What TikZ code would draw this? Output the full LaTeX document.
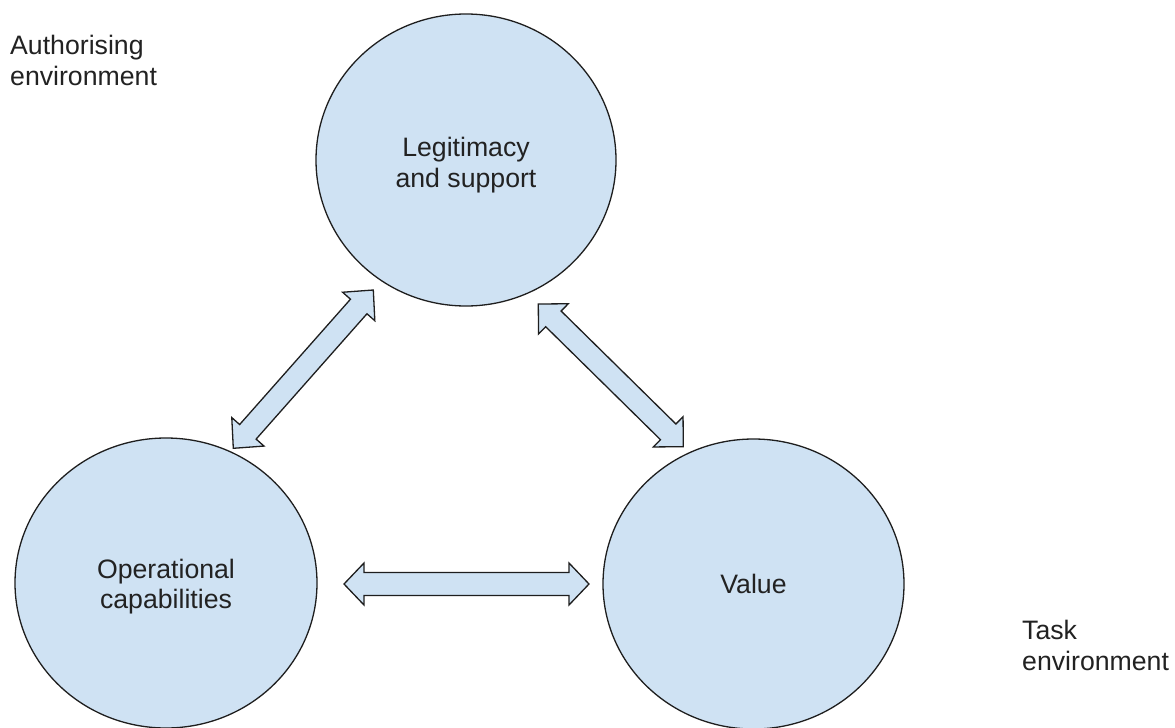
\documentclass[tikz,border=0pt]{standalone}
\usepackage{fontspec}
\setmainfont{Liberation Sans}
\usetikzlibrary{shapes.geometric,calc}
\definecolor{bubble}{HTML}{CFE2F3}
\definecolor{edgeink}{HTML}{1E1E1E}
\definecolor{ink}{HTML}{222222}
\newcommand\blockdbl[5]{%
  \coordinate (bap) at ($(#1)!#5!(#2)$);
  \coordinate (baq) at ($(#2)!#5!(#1)$);
  \draw[blockarrow] (#1) -- ($(bap)!#3!90:(#2)$) -- ($(bap)!#4!90:(#2)$)
    -- ($(baq)!#4!-90:(#1)$) -- ($(baq)!#3!-90:(#1)$) -- (#2)
    -- ($(baq)!#3!90:(#1)$) -- ($(baq)!#4!90:(#1)$)
    -- ($(bap)!#4!-90:(#2)$) -- ($(bap)!#3!-90:(#2)$) -- cycle;}
\begin{document}
\begin{tikzpicture}[x=1pt,y=-1pt,
  bubblenode/.style={ellipse, draw=edgeink, fill=bubble, line width=1.3pt, inner sep=0pt},
  blockarrow/.style={draw=edgeink, fill=bubble, line width=1.3pt, line join=miter},
  lbl/.style={font=\fontsize{26.67}{30.7}\selectfont, text=ink, inner sep=0pt}]
\useasboundingbox (0,0) rectangle (1175,728);
\fill[white] (0,0) rectangle (1175,728);
% circles
\node[bubblenode, minimum width=300pt, minimum height=292pt] (legit) at (466,160) {};
\node[bubblenode, minimum width=302pt, minimum height=290pt] (oper) at (166,583) {};
\node[bubblenode, minimum width=301pt, minimum height=290pt, lbl] (value) at (753.5,584) {Value};
% texts
\node[lbl, align=center] (legittext) at (466,165.3) {Legitimacy\\and support};
\node[lbl, align=center] (opertext) at (166,586.7) {Operational\\capabilities};
\node[lbl, align=left, anchor=west] (auth) at (10,60.8) {Authorising\\environment};
\node[lbl, align=left, anchor=west] (task) at (1022,645.8) {Task\\environment};
% arrow end points
\coordinate (olA) at (233.3,448.3);
\coordinate (olB) at (373.3,290);
\coordinate (lvA) at (538.3,304);
\coordinate (lvB) at (683.3,446.7);
\coordinate (ovA) at (344,584);
\coordinate (ovB) at (589,584);
\blockdbl{olA}{olB}{21.5pt}{11pt}{22pt}
\blockdbl{lvA}{lvB}{21.2pt}{11pt}{21.2pt}
\blockdbl{ovA}{ovB}{21pt}{11.5pt}{20pt}
\end{tikzpicture}
\end{document}
